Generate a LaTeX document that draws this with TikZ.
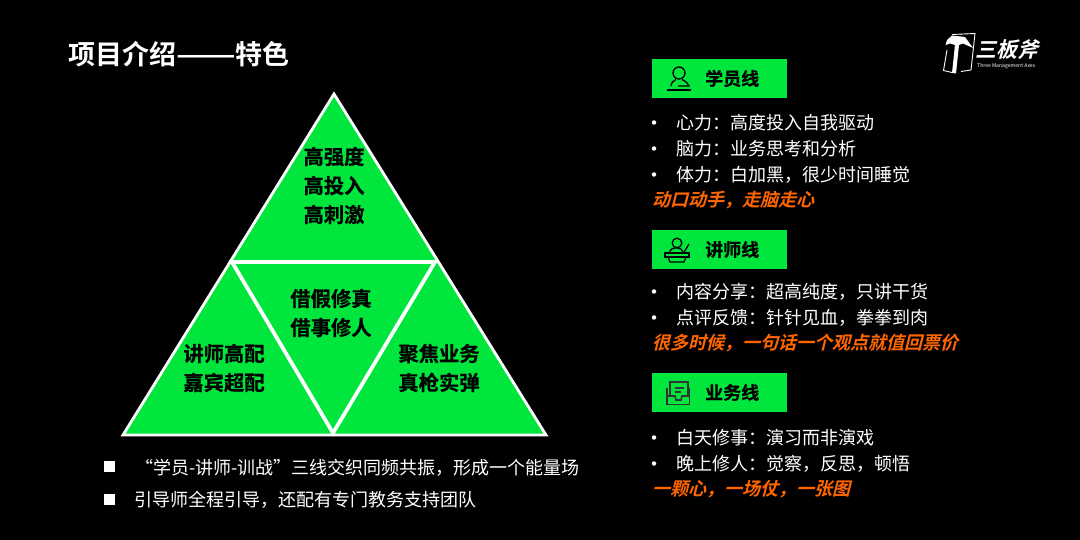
\documentclass[tikz,border=0pt]{standalone}
\usepackage{fontspec}
\setmainfont{Noto Sans CJK SC}[BoldFont={Noto Sans CJK SC Bold}]
\newfontfamily\obl{Noto Sans CJK SC Bold}[FakeSlant=0.25]
\newfontfamily\hvy{Noto Sans CJK SC Bold}[FakeBold=0.6]
\definecolor{grn}{HTML}{00E63C}
\definecolor{org}{HTML}{FF6600}
\tikzset{
 tri/.style={fill=grn,draw=white,line width=2.8pt,line join=miter},
 tri2/.style={fill=grn,draw=white,line width=3.8pt,line join=miter},
 trilabel/.style={font=\fontsize{20.3}{29}\selectfont\hvy,text=black,align=center,inner sep=0pt},
 head/.style={fill=grn,draw=none,minimum width=135pt,minimum height=39pt,inner sep=0pt},
 headlabel/.style={font=\fontsize{18}{20}\selectfont\hvy,text=black,inner sep=0pt,anchor=west},
 body/.style={font=\fontsize{18}{26}\selectfont,text=white,inner sep=0pt,anchor=west},
 dot/.style={circle,fill=white,draw=none,minimum size=4.5pt,inner sep=0pt},
 note/.style={font=\fontsize{18}{26}\selectfont\obl,text=org,inner sep=0pt,anchor=west},
 sq/.style={rectangle,fill=white,draw=none,minimum size=11pt,inner sep=0pt},
 ico/.style={draw=black,line width=1.3pt,fill=none},
 ico3/.style={draw=black!80,line width=1.6pt,fill=none}
}
\begin{document}
\begin{tikzpicture}[x=1pt,y=-1pt]
\useasboundingbox (0,0) rectangle (1080,540);
\fill[black] (0,0) rectangle (1080,540);
\node[inner sep=0pt,anchor=west,text=white,font=\fontsize{27}{30}\selectfont\bfseries] (title) at (68,54) {项目介绍\scalebox{1.3}[1]{——}特色};
% triangles
\coordinate (A) at (334,94);
\coordinate (B) at (123,435);
\coordinate (C) at (546,435);
\coordinate (D) at (232,262);
\coordinate (E) at (435,262);
\coordinate (F) at (333,433);
\draw[tri] (A) -- (C) -- (B) -- cycle;
\draw[tri2] (D) -- (E) -- (F) -- cycle;
\node[trilabel] (t1) at (334,185.5) {高强度\\高投入\\高刺激};
\node[trilabel] (t2) at (331,313) {借假修真\\借事修人};
\node[trilabel] (t3) at (224,368) {讲师高配\\嘉宾超配};
\node[trilabel] (t4) at (439,368) {聚焦业务\\真枪实弹};
% bottom
\node[sq] (s1) at (109.5,466.5) {};
\node[sq] (s2) at (109.5,499) {};
\node[inner sep=0pt,anchor=west,text=white,font=\fontsize{18}{22}\selectfont] (b1) at (135,468) {“学员-讲师-训战”三线交织同频共振，形成一个能量场};
\node[inner sep=0pt,anchor=west,text=white,font=\fontsize{18}{22}\selectfont] (b2) at (134,500) {引导师全程引导，还配有专门教务支持团队};
% heads
\node[head,anchor=north west] (h1) at (652,59) {};
\node[headlabel] (h1t) at (705,78.5) {学员线};
\node[head,anchor=north west] (h2) at (652,230) {};
\node[headlabel] (h2t) at (705,249.5) {讲师线};
\node[head,anchor=north west] (h3) at (652,373) {};
\node[headlabel] (h3t) at (705,392.5) {业务线};
% icon 1 person
\draw[ico] (679,73) circle (6pt);
\draw[ico] (671,86) .. controls (671.5,82.5) and (673.5,80.5) .. (676,79.5);
\draw[ico] (682,79.5) .. controls (685,80.5) and (687,82.5) .. (689,86) -- (678,86);
\draw[ico] (667,90) -- (691,90);
% icon 2 lecturer
\draw[ico] (677,243) circle (4.8pt);
\draw[ico] (669.5,253) .. controls (669.5,249.5) and (673,247.8) .. (677,247.8) .. controls (680,247.8) and (682.5,249.5) .. (683,253);
\draw[ico] (683.5,253) -- (689,244);
\draw[ico] (665,253) rectangle (689,257);
\draw[ico] (668,257) -- (670,262) -- (684,262) -- (686,257);
% icon 3 tray
\draw[ico3] (670,395) -- (670,382) -- (688,382) -- (688,395);
\draw[ico3] (675,388) -- (684,388) (675,392) -- (681,392);
\draw[ico3] (667,388) -- (667,404.5) -- (689.5,404.5) -- (689.5,388);
\draw[ico3] (667,396) -- (675,396) -- (676,400) -- (681,400) -- (682,396) -- (689.5,396);
% right text group 1
\foreach \n/\y/\t in {a/122.5/心力：高度投入自我驱动,b/148.5/脑力：业务思考和分析,c/174.5/体力：白加黑，很少时间睡觉}{
  \node[dot] (d\n) at (654,\y) {};
  \node[body] (l\n) at (676.5,\y) {\t};
}
\node[note] (n1) at (652,200.5) {动口动手，走脑走心};
\foreach \n/\y/\t in {d/291.5/内容分享：超高纯度，只讲干货,e/317.5/点评反馈：针针见血，拳拳到肉}{
  \node[dot] (d\n) at (654,\y) {};
  \node[body] (l\n) at (676.5,\y) {\t};
}
\node[note] (n2) at (652,343.5) {很多时候，一句话一个观点就值回票价};
\foreach \n/\y/\t in {f/437.5/白天修事：演习而非演戏,g/463.5/晚上修人：觉察，反思，顿悟}{
  \node[dot] (d\n) at (654,\y) {};
  \node[body] (l\n) at (676.5,\y) {\t};
}
\node[note] (n3) at (652,489.5) {一颗心，一场仗，一张图};
% logo
\draw[white,line width=.9pt] (952,34.5) -- (975,33.5) -- (971,70) -- (961,71.5);
\draw[white,line width=.9pt] (947,50) -- (943.5,70.5) -- (952,72.5);
\fill[white] (945.5,45) -- (947,40) -- (952,35.5) -- (965,37) -- (973,48) -- (963,43.5) -- (959,45) -- (956,73.5) -- (952,73) -- (955,45) -- (950,43.5) -- cycle;
\node[inner sep=0pt,anchor=west,text=white,font=\fontsize{21}{22}\selectfont\obl] (logo) at (975.5,50) {三板斧};
\node[inner sep=0pt,anchor=west,text=white,font=\fontsize{5.1}{6}\selectfont] (logo2) at (977,66) {Three Management Axes};
\end{tikzpicture}
\end{document}
